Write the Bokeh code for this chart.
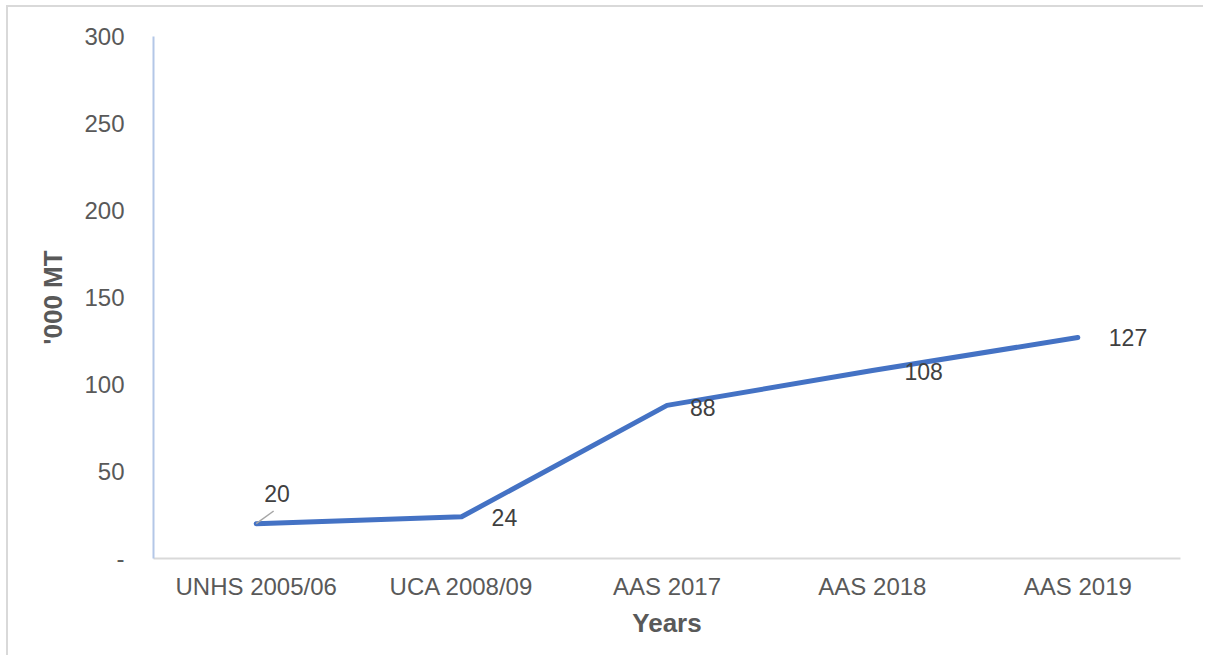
from bokeh.plotting import figure
from bokeh.models import ColumnDataSource, FixedTicker, Range1d, FactorRange
from bokeh.core.properties import value
from bokeh.embed import file_html
from bokeh.resources import INLINE

categories = ["UNHS 2005/06", "UCA 2008/09", "AAS 2017", "AAS 2018", "AAS 2019"]
values = [20, 24, 88, 108, 127]
labels = ["20", "24", "88", "108", "127"]
y_ticks = [0, 50, 100, 150, 200, 250, 300]

# label offsets (pixels) - styling only
label_dx = [8, 30, 23, 32, 31]
label_dy = [-30, 1, 2, 1, 0]

FONT = "Liberation Sans"

p = figure(width=1197, height=650, x_range=FactorRange(*categories, range_padding=0),
           y_range=Range1d(0, 300), output_backend="svg", toolbar_location=None,
           min_border_left=145, min_border_top=29, min_border_right=25, min_border_bottom=99)
p.styles = {"border-left": "2px solid #d9d9d9", "border-top": "2px solid #d9d9d9",
            "border-right": "0px none", "border-bottom": "0px none",
            "margin-left": "6px", "margin-top": "5px"}
p.outline_line_color = None
p.border_fill_color = None
p.xgrid.visible = False
p.ygrid.visible = False

src = ColumnDataSource(dict(x=categories, y=values, t=labels, dx=label_dx, dy=label_dy))

p.line("x", "y", source=src, line_color="#4472C4", line_width=5, line_join="round", line_cap="round")

# leader line for first label
p.segment(x0=[categories[0]], y0=[values[0]], x1=[(categories[0], 0.085)], y1=[values[0] + 7.3],
          line_color="#a6a6a6", line_width=1.5)

p.text("x", "y", text="t", source=src, x_offset="dx", y_offset="dy",
       text_align="left", text_baseline="middle", text_font=value(FONT),
       text_font_size="23px", text_color="#404040")

# y axis
ya = p.yaxis[0]
ya.ticker = FixedTicker(ticks=y_ticks)
ya.major_label_overrides = {0: "-"}
ya.axis_line_color = "#b4c7e7"
ya.axis_line_width = 2
ya.major_tick_line_color = None
ya.minor_tick_line_color = None
ya.major_label_text_font = FONT
ya.major_label_text_font_size = "24px"
ya.major_label_text_color = "#595959"
ya.major_label_standoff = 23
ya.axis_label = "'000 MT"
ya.axis_label_text_font = FONT
ya.axis_label_text_font_size = "26px"
ya.axis_label_text_font_style = "bold"
ya.axis_label_text_color = "#595959"
ya.axis_label_standoff = 13

# x axis
xa = p.xaxis[0]
xa.axis_line_color = "#d9d9d9"
xa.axis_line_width = 2
xa.major_tick_line_color = None
xa.minor_tick_line_color = None
xa.major_label_text_font = FONT
xa.major_label_text_font_size = "24px"
xa.major_label_text_color = "#595959"
xa.major_label_standoff = 8
xa.axis_label = "Years"
xa.axis_label_text_font = FONT
xa.axis_label_text_font_size = "26px"
xa.axis_label_text_font_style = "bold"
xa.axis_label_text_color = "#595959"
xa.axis_label_standoff = 5

open("out.html", "w").write(file_html(p, INLINE))
